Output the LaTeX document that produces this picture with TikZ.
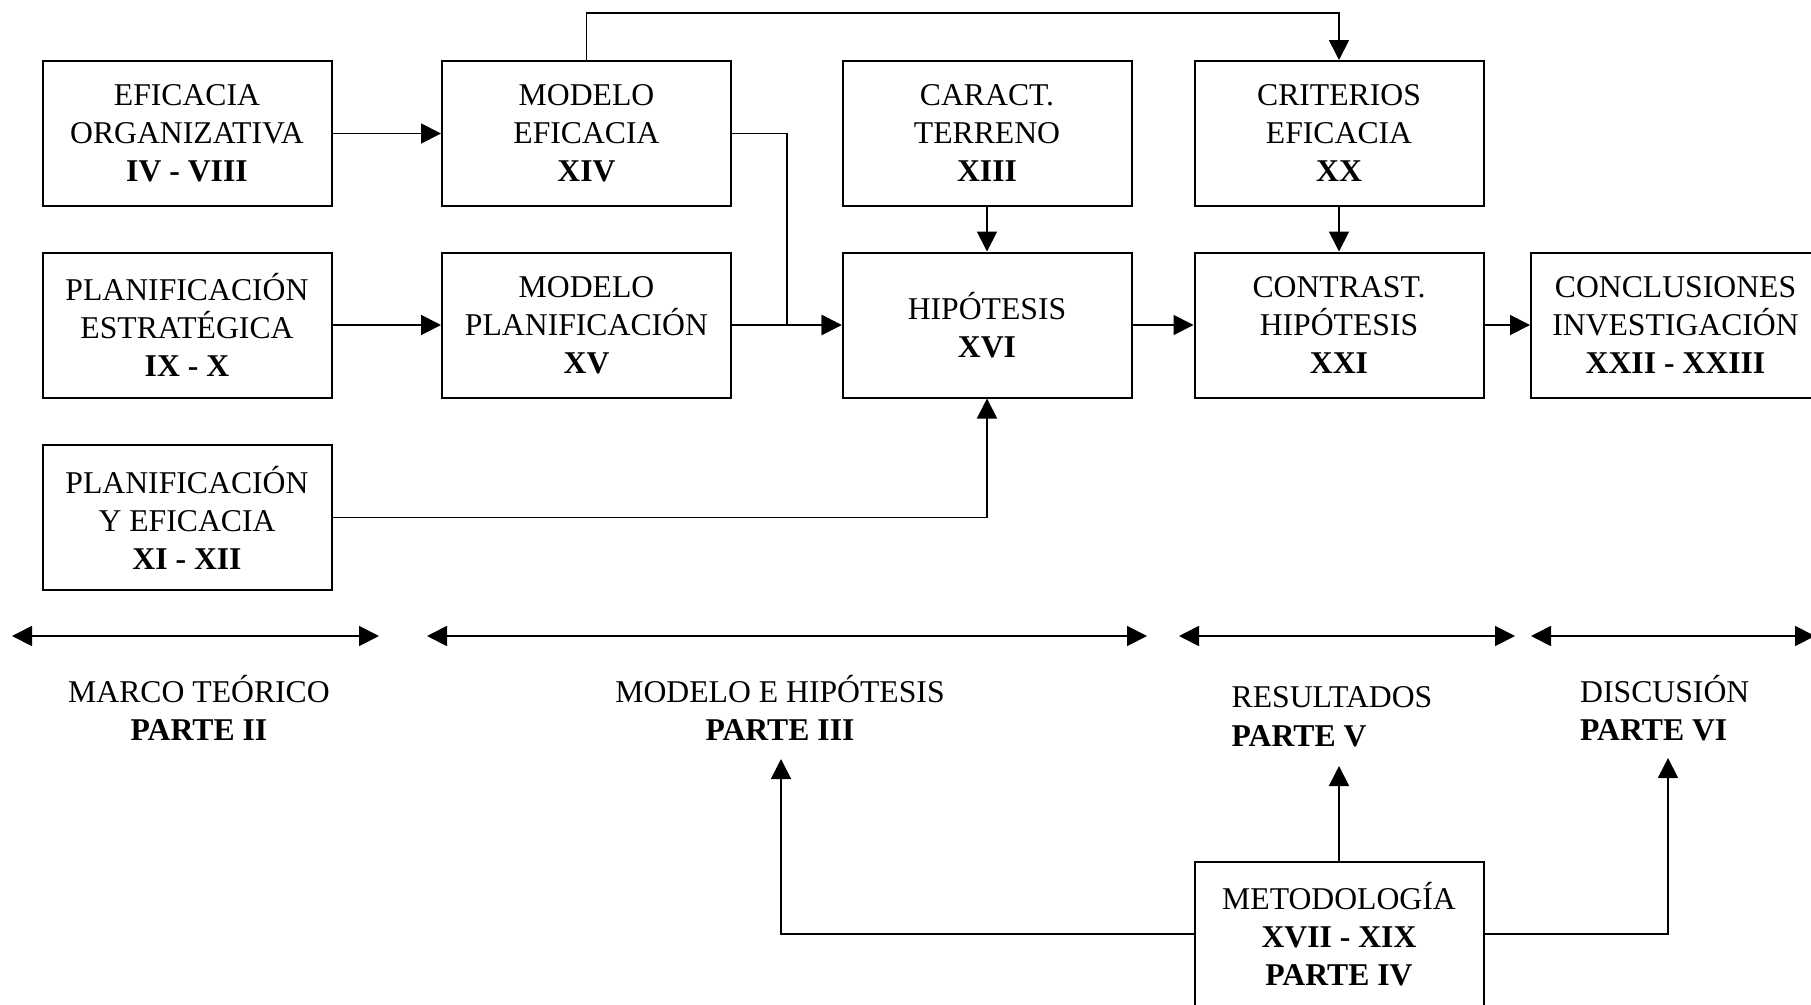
\documentclass[tikz,border=0pt]{standalone}
\usepackage{fontspec}
\setmainfont{Liberation Serif}
\usetikzlibrary{arrows.meta}
\begin{document}
\begin{tikzpicture}[x=1pt,y=-1pt,
  box/.style={draw, line width=2pt, minimum width=289pt, minimum height=145pt,
    inner sep=0pt, align=center, font=\fontsize{31.7}{38}\selectfont},
  lbl/.style={inner sep=0pt, font=\fontsize{31.7}{38.5}\selectfont},
  link/.style={line width=1.8pt, -{Triangle[length=20pt,width=20pt]}},
  span/.style={line width=1.8pt, {Triangle[length=20pt,width=20pt]}-{Triangle[length=20pt,width=20pt]}},
]
\useasboundingbox (0,0) rectangle (1811,1004);

% chapter boxes
\node[box] (eo)  at (187,133.5)   {EFICACIA\\ORGANIZATIVA\\\textbf{IV - VIII}};
\node[box] (me)  at (586.5,133.5) {MODELO\\EFICACIA\\\textbf{XIV}};
\node[box] (ct)  at (987,133.5)   {CARACT.\\TERRENO\\\textbf{XIII}};
\node[box] (ce)  at (1339,133.5)  {CRITERIOS\\EFICACIA\\\textbf{XX}};
\node[box] (pe)  at (187,325)     {PLANIFICACIÓN\\ESTRATÉGICA\\\textbf{IX - X}};
\node[box] (mp)  at (586.5,325)   {MODELO\\PLANIFICACIÓN\\\textbf{XV}};
\node[box] (hi)  at (987,325)     {HIPÓTESIS\\\textbf{XVI}};
\node[box] (ch)  at (1339,325)    {CONTRAST.\\HIPÓTESIS\\\textbf{XXI}};
\node[box] (ci)  at (1675.5,325)  {CONCLUSIONES\\INVESTIGACIÓN\\\textbf{XXII - XXIII}};
\node[box] (pye) at (187,517.5)   {PLANIFICACIÓN\\Y EFICACIA\\\textbf{XI - XII}};
\node[box] (mt)  at (1339,934)    {METODOLOGÍA\\\textbf{XVII - XIX}\\\textbf{PARTE IV}};

% flow between chapters
\draw[link] (eo) -- (me);
\draw[link] (pe) -- (mp);
\draw[link] (me.north) -- ++(0,-47) -| (ce.north);
\coordinate (join) at (787,325);
\draw[link] (me.east) -| (join) -- (hi.west);
\draw[link] (mp.east) -- (hi.west);
\draw[link] (ct) -- (hi);
\draw[link] (ce) -- (ch);
\draw[link] (hi) -- (ch);
\draw[link] (ch) -- (ci);
\draw[link] (pye.east) -| (hi.south);

% part spans
\coordinate (s1a) at (12,636);   \coordinate (s1b) at (379,636);
\coordinate (s2a) at (427,636);  \coordinate (s2b) at (1147,636);
\coordinate (s3a) at (1179,636); \coordinate (s3b) at (1515,636);
\coordinate (s4a) at (1531,636); \coordinate (s4b) at (1815,636);
\draw[span] (s1a) -- (s1b);
\draw[span] (s2a) -- (s2b);
\draw[span] (s3a) -- (s3b);
\draw[span] (s4a) -- (s4b);

% part labels
\node[lbl, align=center] (l2) at (199,708) {MARCO TEÓRICO\\\textbf{PARTE II}};
\node[lbl, align=center] (l3) at (780,708) {MODELO E HIPÓTESIS\\\textbf{PARTE III}};
\node[lbl, align=left, anchor=west] (l5) at (1231.5,716.5) {RESULTADOS\\\textbf{PARTE V}};
\node[lbl, align=left, anchor=west] (l6) at (1580,708) {DISCUSIÓN\\\textbf{PARTE VI}};

% methodology feeds the later parts
\coordinate (t3) at (781,759);
\coordinate (t5) at (1339,766);
\coordinate (t6) at (1668,758);
\draw[link] (mt.west) -| (t3);
\draw[link] (mt.north) -- (t5);
\draw[link] (mt.east) -| (t6);
\end{tikzpicture}
\end{document}
